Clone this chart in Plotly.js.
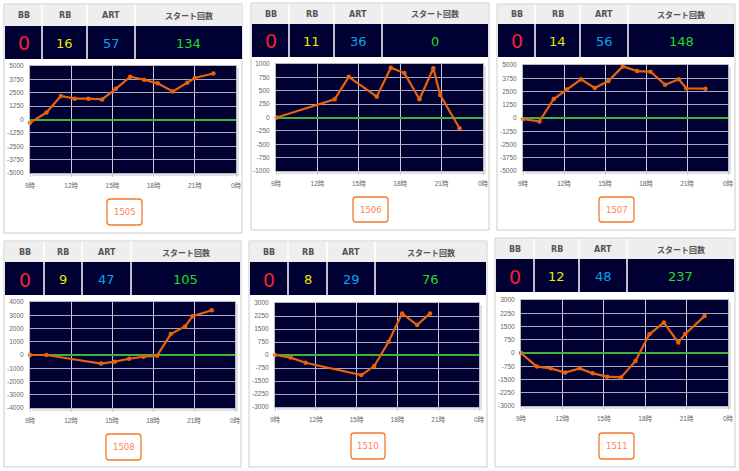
<!DOCTYPE html>
<html><head><meta charset="utf-8">
<script src="https://cdn.plot.ly/plotly-3.0.1.min.js"></script>
<style>html,body{margin:0;padding:0;background:#fff}#c{width:739px;height:471px}</style>
</head><body><div id="c"></div>
<script>
// ---- data ----
const machines = ['1505', '1506', '1507', '1508', '1510', '1511'];
const headerLabels = ['BB', 'RB', 'ART', 'スタート回数'];
const bbCounts = [0, 0, 0, 0, 0, 0];
const rbCounts = [16, 11, 14, 9, 8, 12];
const artCounts = [57, 36, 56, 47, 29, 48];
const startCounts = [134, 0, 148, 105, 76, 237];

const hours1505 = [9, 10.2, 11.25, 12.25, 13.25, 14.25, 15.25, 16.3, 17.3, 18.3, 19.4, 20.45, 21.0, 22.35];
const diff1505  = [-300, 650, 2200, 1950, 1950, 1880, 2870, 4000, 3720, 3380, 2620, 3440, 3880, 4300];
const hours1506 = [9.05, 13.25, 14.27, 16.3, 17.32, 18.3, 19.4, 20.4, 20.9, 22.3];
const diff1506  = [0, 340, 760, 390, 930, 830, 340, 920, 420, -200];
const hours1507 = [9, 10.2, 11.25, 12.2, 13.25, 14.25, 15.25, 16.3, 17.35, 18.33, 19.4, 20.4, 20.95, 22.35];
const diff1507  = [-100, -320, 1790, 2700, 3650, 2830, 3490, 4870, 4430, 4370, 3140, 3650, 2800, 2770];
const hours1508 = [9, 10.2, 14.2, 15.2, 16.25, 17.3, 18.3, 19.3, 20.35, 20.9, 22.3];
const diff1508  = [0, 0, -650, -500, -280, -130, -50, 1580, 2150, 2930, 3380];
const hours1510 = [9, 10.15, 11.25, 15.35, 16.3, 17.35, 18.35, 19.45, 20.4];
const diff1510  = [0, -150, -450, -1160, -640, 760, 2400, 1730, 2400];
const hours1511 = [9, 10.15, 11.15, 12.2, 13.25, 14.2, 15.25, 16.25, 17.3, 18.3, 19.35, 20.4, 20.9, 22.3];
const diff1511  = [0, -770, -870, -1110, -870, -1150, -1340, -1380, -450, 1060, 1720, 600, 1080, 2090];

const seriesHours = [hours1505, hours1506, hours1507, hours1508, hours1510, hours1511];
const seriesDiff = [diff1505, diff1506, diff1507, diff1508, diff1510, diff1511];
const yMax = [5000, 1000, 5000, 4000, 3000, 3000];
const yStep = [1250, 250, 1250, 1000, 750, 750];
const xTickVals = [9, 12, 15, 18, 21, 24];
const xTickLabels = ['9時', '12時', '15時', '18時', '21時', '0時'];

// ---- layout geometry (pixels) ----
const W = 739, H = 471;
const geo = [
  {box:[4,4,242,233], tb:[5,5,242,26,59], cols:[42,87,135], plot:[30,66,236,173], btn:[107,199,142,225]},
  {box:[251,3,489,230], tb:[252,4,488,24,57], cols:[289,334,382], plot:[276,64,483,171], btn:[353,197,388,222]},
  {box:[497,4,735,230], tb:[498,5,734,24,57], cols:[535,580,628], plot:[523,65,728,171], btn:[599,197,634,222]},
  {box:[4,241,241,467], tb:[5,242,240,262,295], cols:[44,82,131], plot:[30,302,235,408], btn:[106,434,141,460]},
  {box:[249,241,487,467], tb:[250,242,486,262,295], cols:[288,327,375], plot:[275,303,479,407], btn:[351,433,385,459]},
  {box:[495,238,735,467], tb:[496,239,734,259,292], cols:[534,579,627], plot:[521,300,728,406], btn:[599,433,634,459]}
];
const X = p => p / W;
const Y = p => 1 - p / H;
const FONT = 'DejaVu Sans, Noto Sans CJK JP, sans-serif';
const TICKFONT = 'Liberation Sans, Noto Sans CJK JP, sans-serif';

const data = [];
const shapes = [];
const annotations = [];
const layout = {
  width: W, height: H, margin: {l:0, r:0, t:0, b:0},
  paper_bgcolor: '#ffffff', plot_bgcolor: '#000033',
  showlegend: false, shapes: shapes, annotations: annotations,
  font: {family: FONT}
};

function rect(x0, y0, x1, y1, fill, line, lw) {
  shapes.push({type:'rect', xref:'paper', yref:'paper', layer:'below',
    x0:X(x0), x1:X(x1), y0:Y(y1), y1:Y(y0), fillcolor:fill,
    line:{color:line || 'rgba(0,0,0,0)', width: lw || 0}});
}
function vline(x, y0, y1, color, w) {
  shapes.push({type:'line', xref:'paper', yref:'paper', layer:'below',
    x0:X(x), x1:X(x), y0:Y(y0), y1:Y(y1), line:{color:color, width:w}});
}
function roundRect(x0, y0, x1, y1, r, color, w) {
  const p = (x, y) => X(x) + ',' + Y(y);
  const path = 'M' + p(x0 + r, y0) + ' L' + p(x1 - r, y0) + ' Q' + p(x1, y0) + ' ' + p(x1, y0 + r) +
    ' L' + p(x1, y1 - r) + ' Q' + p(x1, y1) + ' ' + p(x1 - r, y1) +
    ' L' + p(x0 + r, y1) + ' Q' + p(x0, y1) + ' ' + p(x0, y1 - r) +
    ' L' + p(x0, y0 + r) + ' Q' + p(x0, y0) + ' ' + p(x0 + r, y0) + ' Z';
  shapes.push({type:'path', xref:'paper', yref:'paper', path:path, fillcolor:'#ffffff', line:{color:color, width:w}});
}
function text(t, x, y, size, color, bold, fam) {
  annotations.push({text: bold ? '<b>' + t + '</b>' : t, xref:'paper', yref:'paper', x:X(x), y:Y(y),
    xanchor:'center', yanchor:'middle', showarrow:false, font:{size:size, color:color, family:fam || FONT}});
}

const valueColors = ['#ee2233', '#e8e800', '#00a8f0', '#22dd22'];
const valueSizes = [19, 13, 13, 13];

geo.forEach((g, i) => {
  const n = i + 1;
  // panel border
  rect(g.box[0], g.box[1], g.box[2], g.box[3], '#ffffff', '#cccccc', 1);
  const [tx0, ty0, tx1, ty1, ty2] = g.tb;
  rect(tx0, ty0, tx1, ty1, '#eeeeee');
  rect(tx0, ty1, tx1, ty2, '#000033');
  g.cols.forEach(cx => vline(cx, ty0, ty2, '#ffffff', 1.5));
  const edges = [tx0].concat(g.cols, [tx1]);
  const vals = [bbCounts[i], rbCounts[i], artCounts[i], startCounts[i]];
  for (let k = 0; k < 4; k++) {
    const cx = (edges[k] + edges[k + 1]) / 2;
    text(headerLabels[k], cx, (ty0 + ty1) / 2 + 0.5, 8, '#555555', true);
    text(String(vals[k]), cx, (ty1 + ty2) / 2 + 1, valueSizes[k], valueColors[k], false);
  }
  // plot shadow and background
  const [px0, py0, px1, py1] = g.plot;
  rect(px1, py0 + 2, px1 + 3, py1 + 3, '#e2e2e2');
  rect(px0 + 2, py1, px1 + 3, py1 + 3, '#e2e2e2');
  rect(px0, py0, px1, py1, '#000033');
  // button
  roundRect(g.btn[0], g.btn[1], g.btn[2], g.btn[3], 3, '#f47a2a', 1.3);
  text(machines[i], (g.btn[0] + g.btn[2]) / 2, (g.btn[1] + g.btn[3]) / 2, 8.5, '#ff7f5a', false);

  // axes
  const R = yMax[i], s = yStep[i];
  const yv = [], yt = [];
  for (let v = R; v >= -R; v -= s) { yv.push(v); yt.push(String(v)); }
  layout['xaxis' + n] = {
    domain: [X(px0), X(px1)], anchor: 'y' + n, range: [9, 24], fixedrange: true,
    tickvals: xTickVals, ticktext: xTickLabels, ticks: 'outside', ticklen: 3, tickcolor: '#cccccc',
    ticklabelstandoff: 3,
    tickfont: {size: 6.5, color: '#666666', family: TICKFONT},
    showgrid: true, gridcolor: '#c8c8d4', gridwidth: 1,
    showline: true, mirror: true, linecolor: '#b8b8c0', linewidth: 1, zeroline: false
  };
  layout['yaxis' + n] = {
    domain: [Y(py1), Y(py0)], anchor: 'x' + n, range: [-R, R], fixedrange: true,
    tickvals: yv, ticktext: yt, ticks: '', ticklabelstandoff: 4,
    tickfont: {size: 6.5, color: '#666666', family: TICKFONT},
    showgrid: true, gridcolor: '#a8a8bc', gridwidth: 1,
    showline: true, mirror: true, linecolor: '#b8b8c0', linewidth: 1,
    zeroline: true, zerolinecolor: '#3cb43c', zerolinewidth: 2
  };
  data.push({
    type: 'scatter', mode: 'lines+markers', x: seriesHours[i], y: seriesDiff[i],
    xaxis: 'x' + n, yaxis: 'y' + n, cliponaxis: false,
    line: {color: '#e8620c', width: 2.2}, marker: {color: '#e8620c', size: 4.5},
    hoverinfo: 'skip'
  });
});

Plotly.newPlot('c', data, layout, {staticPlot: true, displayModeBar: false});
</script>
</body></html>
